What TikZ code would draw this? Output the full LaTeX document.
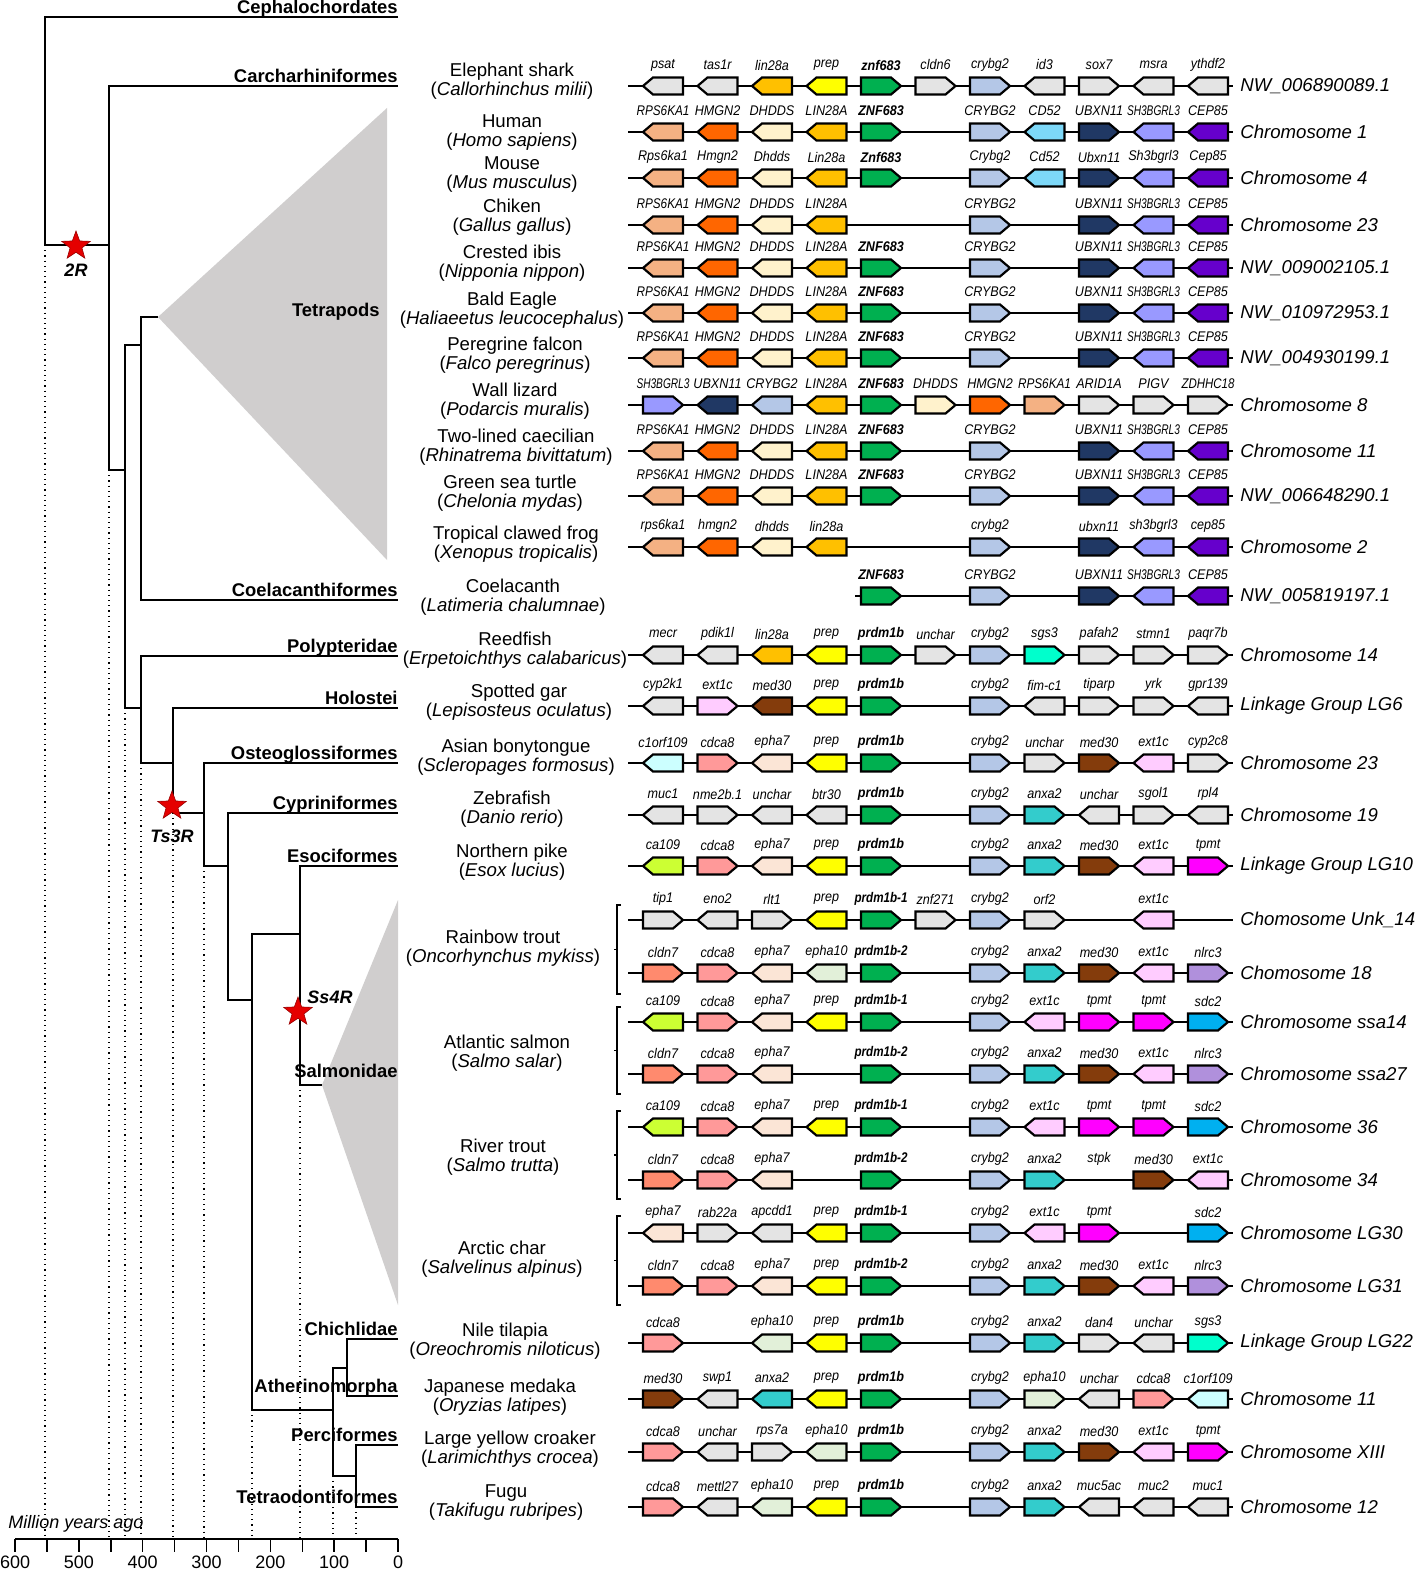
\documentclass[tikz,border=0pt]{standalone}
\usepackage{fontspec}
\setmainfont{Liberation Sans}
\usetikzlibrary{shapes.geometric}
\definecolor{gGray}{HTML}{E4E4E4}
\definecolor{cLin}{HTML}{FFC000}
\definecolor{cPrep}{HTML}{FFFF00}
\definecolor{cZnf}{HTML}{00B050}
\definecolor{cCry}{HTML}{B4C7E7}
\definecolor{cRps}{HTML}{F4B183}
\definecolor{cHmg}{HTML}{FF6600}
\definecolor{cDhd}{HTML}{FFF2CC}
\definecolor{cCd}{HTML}{7DD8F8}
\definecolor{cUbx}{HTML}{203864}
\definecolor{cSh}{HTML}{9999FF}
\definecolor{cCep}{HTML}{6600CC}
\definecolor{cSgs}{HTML}{00FFCC}
\definecolor{cExt}{HTML}{FFCCFF}
\definecolor{cMed}{HTML}{843C0C}
\definecolor{cCo}{HTML}{CCFFFF}
\definecolor{cCdc}{HTML}{FF9999}
\definecolor{cEphS}{HTML}{FBE5D6}
\definecolor{cEphT}{HTML}{E2F0D9}
\definecolor{cAnx}{HTML}{33CCCC}
\definecolor{cCa}{HTML}{CCFF33}
\definecolor{cTp}{HTML}{FF00FF}
\definecolor{cCl}{HTML}{FF8A6E}
\definecolor{cNl}{HTML}{B090DC}
\definecolor{cSdc}{HTML}{00B0F0}
\definecolor{clade}{HTML}{D0CECE}
\tikzset{
  branch/.style={line width=0.75pt},
  ageline/.style={dotted, line width=0.6pt},
  rowline/.style={line width=0.7pt},
  genebox/.style={draw=black, line width=1.1pt},
  genelab/.style={font=\fontsize{7}{8}\selectfont\itshape, inner sep=0},
  chromlab/.style={font=\fontsize{9.3}{10}\selectfont\itshape, anchor=west, inner sep=0},
  spname/.style={align=center, font=\fontsize{9.3}{9.5}\selectfont, inner sep=0},
  cladelab/.style={font=\fontsize{9.2}{10}\selectfont\bfseries, anchor=base east, inner sep=0},
  dupstar/.style={star, star points=5, star point ratio=2.4, fill=red!90!black, draw=red!60!black, line width=0.3pt, minimum size=15pt, inner sep=0},
  duplab/.style={font=\fontsize{9}{10}\selectfont\bfseries\itshape, inner sep=0},
}
\newsavebox{\labbox}
\newcommand{\fitlab}[1]{% squeeze a gene name into its slot
  \sbox{\labbox}{#1}%
  \pgfmathsetmacro{\labfac}{min(0.9,26.5/\wd\labbox)}%
  \scalebox{\labfac}[1]{\usebox{\labbox}}}
\newcommand{\generow}[5]{% {id}{y}{line start}{chromosome}{slot/dir/colour/name}
  \draw[rowline] (#3,#2) -- (1233,#2);
  \node[chromlab] (chr#1) at (1240,#2) {#4};
  \foreach \sl/\dr/\fc/\gn in {#5}{
    \pgfmathsetmacro{\cx}{663+54.5*\sl}
    \filldraw[genebox, fill=\fc] ({\cx-(\dr)*20},{#2-8.5}) -- ({\cx+(\dr)*10},{#2-8.5}) -- ({\cx+(\dr)*20},#2) -- ({\cx+(\dr)*10},{#2+8.5}) -- ({\cx-(\dr)*20},{#2+8.5}) -- cycle;
    \node[genelab] (g#1-\sl) at (\cx,{#2-21}) {\fitlab{\gn}};
  }
}
\begin{document}
\begin{tikzpicture}[x=0.5pt, y=-0.5pt]
\useasboundingbox (0,0) rectangle (1417,1573);

% collapsed clades
\fill[clade] (158,317) -- (387,108) -- (387,560) -- cycle;
\fill[clade] (322,1085) -- (398,900) -- (398,1305) -- cycle;

% time lines
\foreach \x/\y in {45/245, 109/470, 125/708, 141/763, 173/813, 204/866, 252/1410, 300/1085, 333/1476, 356/1507}
  \draw[ageline] (\x,\y) -- (\x,1539);

% tree
\draw[branch] (398,17) -| (45,245) -- (109,245);
\draw[branch] (398,86) -| (109,470) -- (125,470);
\draw[branch] (141,345) -| (125,708) -- (141,708);
\draw[branch] (158,317) -| (141,600) -- (398,600);
\draw[branch] (398,656) -| (141,763) -- (173,763);
\draw[branch] (398,708) -| (173,813) -- (204,813);
\draw[branch] (398,763) -| (204,866) -- (228,866);
\draw[branch] (398,813) -| (228,1000) -- (252,1000);
\draw[branch] (300,934) -| (252,1410) -- (333,1410);
\draw[branch] (398,866) -| (300,1085) -- (322,1085);
\draw[branch] (347,1368) -| (333,1476) -- (356,1476);
\draw[branch] (398,1339) -| (347,1396) -- (398,1396);
\draw[branch] (398,1445) -| (356,1507) -- (398,1507);

\node[cladelab] (cephalo) at (398,13.5) {Cephalochordates};
\node[cladelab] (carch) at (398,82.5) {Carcharhiniformes};
\node[cladelab, anchor=east] (tetra) at (380,312) {Tetrapods};
\node[cladelab] (coela) at (398,596.5) {Coelacanthiformes};
\node[cladelab] (polyp) at (398,652.5) {Polypteridae};
\node[cladelab] (holo) at (398,704.5) {Holostei};
\node[cladelab] (osteo) at (398,759.5) {Osteoglossiformes};
\node[cladelab] (cypri) at (398,809.5) {Cypriniformes};
\node[cladelab] (esoci) at (398,862.5) {Esociformes};
\node[cladelab, anchor=east] (salmo) at (398,1071) {Salmonidae};
\node[cladelab] (chich) at (398,1335.5) {Chichlidae};
\node[cladelab] (ather) at (398,1392.5) {Atherinomorpha};
\node[cladelab] (perci) at (398,1441.5) {Perciformes};
\node[cladelab] (tetrao) at (398,1503.5) {Tetraodontiformes};

% genome duplications
\node[dupstar] (star2R) at (76,246) {};
\node[duplab] (lab2R) at (76,270) {2R};
\node[dupstar] (star3R) at (172,806) {};
\node[duplab] (lab3R) at (172,836) {Ts3R};
\node[dupstar] (star4R) at (298,1012) {};
\node[duplab] (lab4R) at (330,997) {Ss4R};

% time axis
\draw[branch] (15,1539) -- (398,1539);
\foreach \t in {0,50,...,600}
  \draw[branch] ({398-0.6383*\t},1539) -- ({398-0.6383*\t},1552);
\foreach \t in {0,100,...,600}
  \node[font=\fontsize{9}{10}\selectfont, inner sep=0] (ax\t) at ({398-0.6383*\t},1562) {\t};
\node[font=\fontsize{9}{10}\selectfont\itshape, anchor=west, inner sep=0] (mya) at (8,1524) {Million years ago};

% species
\node[spname] (sp1) at (512,81.5) {Elephant shark\\(\textit{Callorhinchus milii})};
\node[spname] (sp2) at (512,132.5) {Human\\(\textit{Homo sapiens})};
\node[spname] (sp3) at (512,175) {Mouse\\(\textit{Mus musculus})};
\node[spname] (sp4) at (512,217.5) {Chiken\\(\textit{Gallus gallus})};
\node[spname] (sp5) at (512,263.5) {Crested ibis\\(\textit{Nipponia nippon})};
\node[spname] (sp6) at (512,310) {Bald Eagle\\(\textit{Haliaeetus leucocephalus})};
\node[spname] (sp7) at (515,355) {Peregrine falcon\\(\textit{Falco peregrinus})};
\node[spname] (sp8) at (515,401) {Wall lizard\\(\textit{Podarcis muralis})};
\node[spname] (sp9) at (516,447) {Two-lined caecilian\\(\textit{Rhinatrema bivittatum})};
\node[spname] (sp10) at (510,493) {Green sea turtle\\(\textit{Chelonia mydas})};
\node[spname] (sp11) at (516,544) {Tropical clawed frog\\(\textit{Xenopus tropicalis})};
\node[spname] (sp12) at (513,597) {Coelacanth\\(\textit{Latimeria chalumnae})};
\node[spname] (sp13) at (515,650) {Reedfish\\(\textit{Erpetoichthys calabaricus})};
\node[spname] (sp14) at (519,702) {Spotted gar\\(\textit{Lepisosteus oculatus})};
\node[spname] (sp15) at (516,757) {Asian bonytongue\\(\textit{Scleropages formosus})};
\node[spname] (sp16) at (512,809) {Zebrafish\\(\textit{Danio rerio})};
\node[spname] (sp17) at (512,862) {Northern pike\\(\textit{Esox lucius})};
\node[spname] (sp18) at (503,948) {Rainbow trout\\(\textit{Oncorhynchus mykiss})};
\node[spname] (sp19) at (507,1053) {Atlantic salmon\\(\textit{Salmo salar})};
\node[spname] (sp20) at (503,1157) {River trout\\(\textit{Salmo trutta})};
\node[spname] (sp21) at (502,1259) {Arctic char\\(\textit{Salvelinus alpinus})};
\node[spname] (sp22) at (505,1341) {Nile tilapia\\(\textit{Oreochromis niloticus})};
\node[spname] (sp23) at (500,1397) {Japanese medaka\\(\textit{Oryzias latipes})};
\node[spname] (sp24) at (510,1449) {Large yellow croaker\\(\textit{Larimichthys crocea})};
\node[spname] (sp25) at (506,1503) {Fugu\\(\textit{Takifugu rubripes})};

% salmonid pairs
\foreach \a/\b in {905/994, 1007/1094, 1111/1199, 1216/1305}
  \draw[line width=0.6pt] (621,\a) -- (617,\a) -- (617,\b) -- (621,\b) (617,{(\a+\b)/2}) -- (614,{(\a+\b)/2});

% gene rows
\generow{1}{86}{628}{NW\_006890089.1}{0/-1/gGray/psat, 1/-1/gGray/tas1r, 2/-1/cLin/lin28a, 3/-1/cPrep/prep, 4/1/cZnf/{\bfseries znf683}, 5/1/gGray/cldn6, 6/1/cCry/crybg2, 7/-1/gGray/id3, 8/1/gGray/sox7, 9/-1/gGray/msra, 10/-1/gGray/ythdf2}
\generow{2}{132}{628}{Chromosome 1}{0/-1/cRps/RPS6KA1, 1/-1/cHmg/HMGN2, 2/-1/cDhd/DHDDS, 3/-1/cLin/LIN28A, 4/1/cZnf/{\bfseries ZNF683}, 6/1/cCry/CRYBG2, 7/-1/cCd/CD52, 8/1/cUbx/UBXN11, 9/-1/cSh/SH3BGRL3, 10/-1/cCep/CEP85}
\generow{3}{178}{628}{Chromosome 4}{0/-1/cRps/Rps6ka1, 1/-1/cHmg/Hmgn2, 2/-1/cDhd/Dhdds, 3/-1/cLin/Lin28a, 4/1/cZnf/{\bfseries Znf683}, 6/1/cCry/Crybg2, 7/-1/cCd/Cd52, 8/1/cUbx/Ubxn11, 9/-1/cSh/Sh3bgrl3, 10/-1/cCep/Cep85}
\generow{4}{225}{628}{Chromosome 23}{0/-1/cRps/RPS6KA1, 1/-1/cHmg/HMGN2, 2/-1/cDhd/DHDDS, 3/-1/cLin/LIN28A, 6/1/cCry/CRYBG2, 8/1/cUbx/UBXN11, 9/-1/cSh/SH3BGRL3, 10/-1/cCep/CEP85}
\generow{5}{268}{628}{NW\_009002105.1}{0/-1/cRps/RPS6KA1, 1/-1/cHmg/HMGN2, 2/-1/cDhd/DHDDS, 3/-1/cLin/LIN28A, 4/1/cZnf/{\bfseries ZNF683}, 6/1/cCry/CRYBG2, 8/1/cUbx/UBXN11, 9/-1/cSh/SH3BGRL3, 10/-1/cCep/CEP85}
\generow{6}{313}{628}{NW\_010972953.1}{0/-1/cRps/RPS6KA1, 1/-1/cHmg/HMGN2, 2/-1/cDhd/DHDDS, 3/-1/cLin/LIN28A, 4/1/cZnf/{\bfseries ZNF683}, 6/1/cCry/CRYBG2, 8/1/cUbx/UBXN11, 9/-1/cSh/SH3BGRL3, 10/-1/cCep/CEP85}
\generow{7}{358}{628}{NW\_004930199.1}{0/-1/cRps/RPS6KA1, 1/-1/cHmg/HMGN2, 2/-1/cDhd/DHDDS, 3/-1/cLin/LIN28A, 4/1/cZnf/{\bfseries ZNF683}, 6/1/cCry/CRYBG2, 8/1/cUbx/UBXN11, 9/-1/cSh/SH3BGRL3, 10/-1/cCep/CEP85}
\generow{8}{405}{628}{Chromosome 8}{0/1/cSh/SH3BGRL3, 1/-1/cUbx/UBXN11, 2/-1/cCry/CRYBG2, 3/-1/cLin/LIN28A, 4/1/cZnf/{\bfseries ZNF683}, 5/1/cDhd/DHDDS, 6/1/cHmg/HMGN2, 7/1/cRps/RPS6KA1, 8/1/gGray/ARID1A, 9/1/gGray/PIGV, 10/1/gGray/ZDHHC18}
\generow{9}{451}{628}{Chromosome 11}{0/-1/cRps/RPS6KA1, 1/-1/cHmg/HMGN2, 2/-1/cDhd/DHDDS, 3/-1/cLin/LIN28A, 4/1/cZnf/{\bfseries ZNF683}, 6/1/cCry/CRYBG2, 8/1/cUbx/UBXN11, 9/-1/cSh/SH3BGRL3, 10/-1/cCep/CEP85}
\generow{10}{496}{628}{NW\_006648290.1}{0/-1/cRps/RPS6KA1, 1/-1/cHmg/HMGN2, 2/-1/cDhd/DHDDS, 3/-1/cLin/LIN28A, 4/1/cZnf/{\bfseries ZNF683}, 6/1/cCry/CRYBG2, 8/1/cUbx/UBXN11, 9/-1/cSh/SH3BGRL3, 10/-1/cCep/CEP85}
\generow{11}{547}{628}{Chromosome 2}{0/-1/cRps/rps6ka1, 1/-1/cHmg/hmgn2, 2/-1/cDhd/dhdds, 3/-1/cLin/lin28a, 6/1/cCry/crybg2, 8/1/cUbx/ubxn11, 9/-1/cSh/sh3bgrl3, 10/-1/cCep/cep85}
\generow{12}{596}{855}{NW\_005819197.1}{4/1/cZnf/{\bfseries ZNF683}, 6/1/cCry/CRYBG2, 8/1/cUbx/UBXN11, 9/-1/cSh/SH3BGRL3, 10/-1/cCep/CEP85}
\generow{13}{655}{628}{Chromosome 14}{0/-1/gGray/mecr, 1/-1/gGray/pdik1l, 2/-1/cLin/lin28a, 3/-1/cPrep/prep, 4/1/cZnf/{\bfseries prdm1b}, 5/1/gGray/unchar, 6/1/cCry/crybg2, 7/1/cSgs/sgs3, 8/1/gGray/pafah2, 9/1/gGray/stmn1, 10/1/gGray/paqr7b}
\generow{14}{706}{628}{Linkage Group LG6}{0/-1/gGray/cyp2k1, 1/1/cExt/ext1c, 2/-1/cMed/med30, 3/-1/cPrep/prep, 4/1/cZnf/{\bfseries prdm1b}, 6/1/cCry/crybg2, 7/-1/gGray/fim-c1, 8/1/gGray/tiparp, 9/1/gGray/yrk, 10/-1/gGray/gpr139}
\generow{15}{763}{628}{Chromosome 23}{0/-1/cCo/c1orf109, 1/1/cCdc/cdca8, 2/-1/cEphS/epha7, 3/-1/cPrep/prep, 4/1/cZnf/{\bfseries prdm1b}, 6/1/cCry/crybg2, 7/1/gGray/unchar, 8/1/cMed/med30, 9/-1/cExt/ext1c, 10/1/gGray/cyp2c8}
\generow{16}{815}{628}{Chromosome 19}{0/-1/gGray/muc1, 1/1/gGray/nme2b.1, 2/-1/gGray/unchar, 3/-1/gGray/btr30, 4/1/cZnf/{\bfseries prdm1b}, 6/1/cCry/crybg2, 7/1/cAnx/anxa2, 8/-1/gGray/unchar, 9/1/gGray/sgol1, 10/-1/gGray/rpl4}
\generow{17}{866}{628}{Linkage Group LG10}{0/-1/cCa/ca109, 1/1/cCdc/cdca8, 2/-1/cEphS/epha7, 3/-1/cPrep/prep, 4/1/cZnf/{\bfseries prdm1b}, 6/1/cCry/crybg2, 7/1/cAnx/anxa2, 8/1/cMed/med30, 9/-1/cExt/ext1c, 10/1/cTp/tpmt}
\generow{18}{920}{628}{Chomosome Unk\_14}{0/1/gGray/tip1, 1/-1/gGray/eno2, 2/1/gGray/rlt1, 3/-1/cPrep/prep, 4/1/cZnf/{\bfseries prdm1b-1}, 5/1/gGray/znf271, 6/1/cCry/crybg2, 7/1/gGray/orf2, 9/-1/cExt/ext1c}
\generow{19}{973}{628}{Chomosome 18}{0/1/cCl/cldn7, 1/1/cCdc/cdca8, 2/-1/cEphS/epha7, 3/-1/cEphT/epha10, 4/1/cZnf/{\bfseries prdm1b-2}, 6/1/cCry/crybg2, 7/1/cAnx/anxa2, 8/1/cMed/med30, 9/-1/cExt/ext1c, 10/1/cNl/nlrc3}
\generow{20}{1022}{628}{Chromosome ssa14}{0/-1/cCa/ca109, 1/1/cCdc/cdca8, 2/-1/cEphS/epha7, 3/-1/cPrep/prep, 4/1/cZnf/{\bfseries prdm1b-1}, 6/1/cCry/crybg2, 7/-1/cExt/ext1c, 8/1/cTp/tpmt, 9/1/cTp/tpmt, 10/1/cSdc/sdc2}
\generow{21}{1074}{628}{Chromosome ssa27}{0/1/cCl/cldn7, 1/1/cCdc/cdca8, 2/-1/cEphS/epha7, 4/1/cZnf/{\bfseries prdm1b-2}, 6/1/cCry/crybg2, 7/1/cAnx/anxa2, 8/1/cMed/med30, 9/-1/cExt/ext1c, 10/1/cNl/nlrc3}
\generow{22}{1127}{628}{Chromosome 36}{0/-1/cCa/ca109, 1/1/cCdc/cdca8, 2/-1/cEphS/epha7, 3/-1/cPrep/prep, 4/1/cZnf/{\bfseries prdm1b-1}, 6/1/cCry/crybg2, 7/-1/cExt/ext1c, 8/1/cTp/tpmt, 9/1/cTp/tpmt, 10/1/cSdc/sdc2}
\generow{23}{1180}{628}{Chromosome 34}{0/1/cCl/cldn7, 1/1/cCdc/cdca8, 2/-1/cEphS/epha7, 4/1/cZnf/{\bfseries prdm1b-2}, 6/1/cCry/crybg2, 7/1/cAnx/anxa2, 9/1/cMed/med30, 10/-1/cExt/ext1c}
\node[genelab] (g23-8) at (1099,1159) {\fitlab{stpk}};
\generow{24}{1233}{628}{Chromosome LG30}{0/-1/cEphS/epha7, 1/1/gGray/rab22a, 2/-1/gGray/apcdd1, 3/-1/cPrep/prep, 4/1/cZnf/{\bfseries prdm1b-1}, 6/1/cCry/crybg2, 7/-1/cExt/ext1c, 8/1/cTp/tpmt, 10/1/cSdc/sdc2}
\generow{25}{1286}{628}{Chromosome LG31}{0/1/cCl/cldn7, 1/1/cCdc/cdca8, 2/-1/cEphS/epha7, 3/-1/cPrep/prep, 4/1/cZnf/{\bfseries prdm1b-2}, 6/1/cCry/crybg2, 7/1/cAnx/anxa2, 8/1/cMed/med30, 9/-1/cExt/ext1c, 10/1/cNl/nlrc3}
\generow{26}{1343}{628}{Linkage Group LG22}{0/1/cCdc/cdca8, 2/-1/cEphT/epha10, 3/-1/cPrep/prep, 4/1/cZnf/{\bfseries prdm1b}, 6/1/cCry/crybg2, 7/1/cAnx/anxa2, 8/1/gGray/dan4, 9/-1/gGray/unchar, 10/1/cSgs/sgs3}
\generow{27}{1399}{628}{Chromosome 11}{0/1/cMed/med30, 1/-1/gGray/swp1, 2/-1/cAnx/anxa2, 3/-1/cPrep/prep, 4/1/cZnf/{\bfseries prdm1b}, 6/1/cCry/crybg2, 7/1/cEphT/epha10, 8/-1/gGray/unchar, 9/1/cCdc/cdca8, 10/-1/cCo/c1orf109}
\generow{28}{1452}{628}{Chromosome XIII}{0/1/cCdc/cdca8, 1/-1/gGray/unchar, 2/1/gGray/rps7a, 3/-1/cEphT/epha10, 4/1/cZnf/{\bfseries prdm1b}, 6/1/cCry/crybg2, 7/1/cAnx/anxa2, 8/1/cMed/med30, 9/-1/cExt/ext1c, 10/1/cTp/tpmt}
\generow{29}{1507}{628}{Chromosome 12}{0/1/cCdc/cdca8, 1/-1/gGray/mettl27, 2/-1/cEphT/epha10, 3/-1/cPrep/prep, 4/1/cZnf/{\bfseries prdm1b}, 6/1/cCry/crybg2, 7/1/cAnx/anxa2, 8/-1/gGray/muc5ac, 9/-1/gGray/muc2, 10/-1/gGray/muc1}
\end{tikzpicture}
\end{document}
